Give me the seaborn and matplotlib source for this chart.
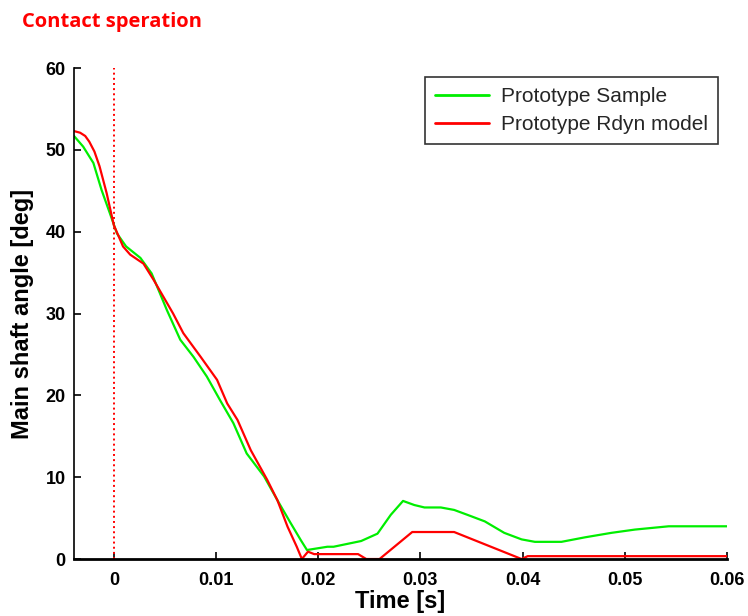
import pandas as pd
import numpy as np
import matplotlib
matplotlib.use("Agg")
import matplotlib.pyplot as plt
import seaborn as sns

# Prototype Sample (measured)
sample_time = [-0.0039, -0.0030, -0.0020, -0.0012, -0.0004, 0.0003, 0.0012, 0.0026,
               0.0037, 0.0045, 0.0052, 0.0065, 0.0078, 0.0091, 0.0104, 0.0117,
               0.0130, 0.0147, 0.0160, 0.0173, 0.0183, 0.0189, 0.0209, 0.0215,
               0.0242, 0.0258, 0.0271, 0.0283, 0.0294, 0.0304, 0.0320, 0.0333,
               0.0346, 0.0363, 0.0382, 0.0399, 0.0412, 0.0438, 0.0461, 0.0487,
               0.0510, 0.0543, 0.0600]
sample_angle = [51.7, 50.4, 48.4, 45.1, 42.3, 39.8, 38.2, 36.8,
                34.9, 32.5, 30.4, 26.8, 24.7, 22.3, 19.4, 16.6,
                12.9, 10.1, 7.2, 4.4, 2.3, 1.1, 1.5, 1.5,
                2.2, 3.1, 5.4, 7.1, 6.6, 6.3, 6.3, 6.0,
                5.4, 4.6, 3.2, 2.4, 2.1, 2.1, 2.65, 3.2,
                3.6, 4.0, 4.0]

# Prototype Rdyn model
model_time = [-0.0039, -0.0033, -0.0028, -0.0024, -0.0019, -0.0014, -0.0007, 0.0000,
              0.0009, 0.0016, 0.0029, 0.0039, 0.0058, 0.0068, 0.0085, 0.0101,
              0.0111, 0.0121, 0.0134, 0.0150, 0.0160, 0.0170, 0.0179, 0.0184,
              0.0190, 0.0196, 0.0239, 0.0247, 0.0260, 0.0292, 0.0333, 0.0399,
              0.0405, 0.0600]
model_angle = [52.3, 52.1, 51.7, 51.0, 49.8, 48.0, 44.7, 40.8,
               38.2, 37.2, 36.1, 34.1, 30.0, 27.6, 24.7, 21.9,
               19.0, 17.0, 13.3, 9.7, 7.2, 3.95, 1.5, 0.0,
               0.9, 0.6, 0.6, 0.0, 0.0, 3.3, 3.3, 0.0,
               0.35, 0.35]

series_names = ["Prototype Sample", "Prototype Rdyn model"]
series_colors = ["#00ee00", "#ff0000"]

df = pd.concat([
    pd.DataFrame({"Time": sample_time, "Angle": sample_angle, "Series": series_names[0]}),
    pd.DataFrame({"Time": model_time, "Angle": model_angle, "Series": series_names[1]}),
], ignore_index=True)

sns.set_style("white")
plt.rcParams["font.family"] = ["Liberation Sans", "DejaVu Sans"]

fig = plt.figure(figsize=(7.48, 6.16), dpi=100)
ax = fig.add_axes([0.0989, 0.0925, 0.873, 0.797])

sns.lineplot(data=df, x="Time", y="Angle", hue="Series", hue_order=series_names,
             palette=dict(zip(series_names, series_colors)), sort=False,
             estimator=None, linewidth=1.6, ax=ax)

# contact separation marker
ax.axvline(0, color="red", linestyle=":", linewidth=1.4, zorder=1)

ax.set_xlim(-0.0039, 0.06)
ax.set_ylim(0, 60)
ax.set_xticks([0, 0.01, 0.02, 0.03, 0.04, 0.05, 0.06])
ax.set_xticklabels(["0", "0.01", "0.02", "0.03", "0.04", "0.05", "0.06"])
ax.set_yticks([0, 10, 20, 30, 40, 50, 60])
ax.tick_params(direction="in", length=5, width=1.2, colors="black",
               labelsize=13, bottom=True, left=True)
ax.tick_params(axis="x", pad=9)
ax.tick_params(axis="y", pad=6)
for lbl in ax.get_xticklabels() + ax.get_yticklabels():
    lbl.set_fontweight("bold")

for side in ["top", "right"]:
    ax.spines[side].set_visible(False)
ax.spines["left"].set_color("black")
ax.spines["left"].set_linewidth(1.2)
ax.spines["bottom"].set_color("black")
ax.spines["bottom"].set_linewidth(2)

ax.set_xlabel("Time [s]", fontsize=17, fontweight="bold", color="black", labelpad=1)
ax.set_ylabel("Main shaft angle [deg]", fontsize=17, fontweight="bold", color="black",
              labelpad=8)

leg = ax.legend(loc="upper right", fontsize=15, frameon=True, fancybox=False,
                edgecolor="black", borderaxespad=0.45, handlelength=2.6,
                borderpad=0.45, labelspacing=0.45, handletextpad=0.6)
leg.get_frame().set_linewidth(1.2)
for line in leg.get_lines():
    line.set_linewidth(2)

fig.text(0.03, 0.965, "Contact speration", color="red", fontsize=14.5,
         fontweight="bold", family=["Open Sans", "DejaVu Sans"], va="center")

fig.savefig("out.png", dpi=100)
